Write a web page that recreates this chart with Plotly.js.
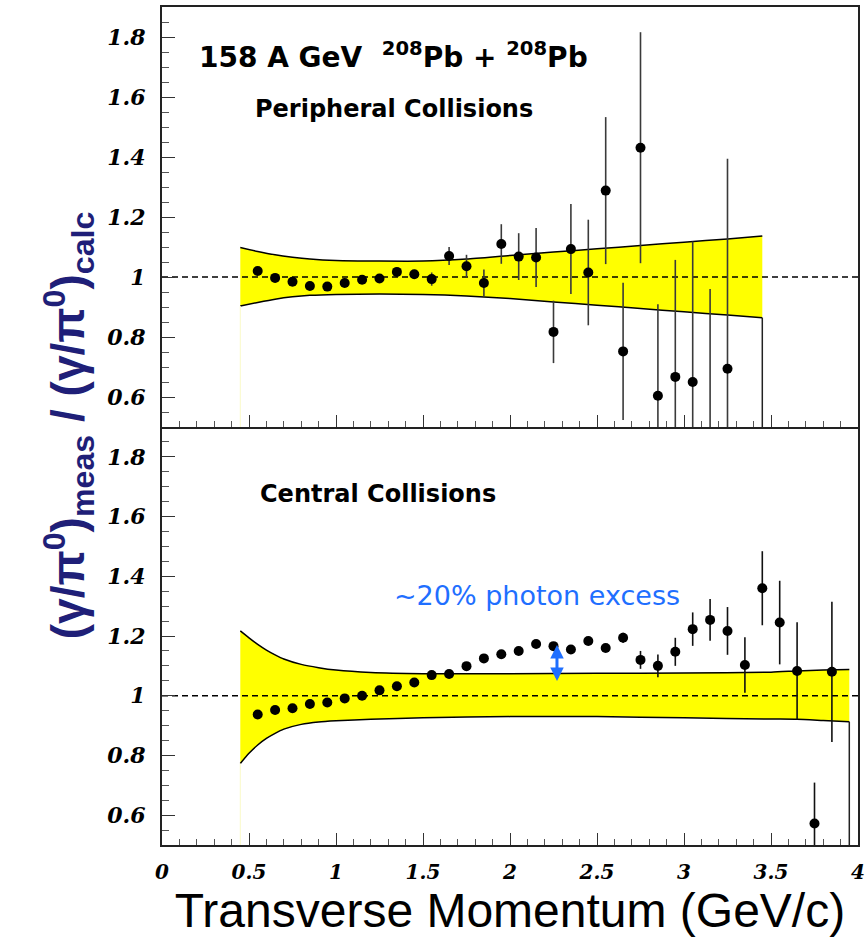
<!DOCTYPE html>
<html><head><meta charset="utf-8">
<script src="https://cdn.plot.ly/plotly-3.0.1.min.js"></script>
<style>html,body{margin:0;padding:0;background:#fff}#chart{width:868px;height:946px}</style>
</head><body><div id="chart"></div>
<script>
// ---------- data ----------
const xRange = [0, 4];
const yRange = [0.5, 1.9];
const refValue = 1;
const xTickVals = [0, 0.5, 1, 1.5, 2, 2.5, 3, 3.5, 4];
const xTickText = ["0", "0.5", "1", "1.5", "2", "2.5", "3", "3.5", "4"];
const yTickVals = [0.6, 0.8, 1, 1.2, 1.4, 1.6, 1.8];
const yTickText = ["0.6", "0.8", "1", "1.2", "1.4", "1.6", "1.8"];

// Peripheral collisions (top panel)
const periphPt = [0.55,0.65,0.75,0.85,0.95,1.05,1.15,1.25,1.35,1.45,1.55,1.65,1.75,1.85,1.95,2.05,2.15,2.25,2.35,2.45,2.55,2.65,2.75,2.85,2.95,3.05,3.15,3.25];
const periphRatio = [1.02,0.997,0.984,0.97,0.968,0.98,0.991,0.995,1.017,1.009,0.993,1.07,1.036,0.98,1.11,1.068,1.065,0.817,1.093,1.015,1.288,0.752,1.431,0.604,0.667,0.65,0.38,0.694];
const periphErr = [0.01,0.01,0.01,0.01,0.01,0.01,0.01,0.01,0.012,0.015,0.022,0.03,0.038,0.045,0.066,0.078,0.098,0.104,0.15,0.176,0.245,0.229,0.385,0.305,0.39,0.468,0.58,0.70];
const periphBandX  = [0.45,0.55,0.65,0.75,0.85,1.0,1.25,1.5,1.75,2.0,2.25,2.5,2.75,3.0,3.25,3.45];
const periphBandUp = [1.098,1.085,1.074,1.066,1.06,1.055,1.053,1.053,1.06,1.072,1.083,1.094,1.105,1.116,1.127,1.137];
const periphBandLo = [0.903,0.915,0.926,0.934,0.939,0.942,0.943,0.942,0.937,0.928,0.917,0.906,0.895,0.884,0.873,0.864];

// Central collisions (bottom panel)
const centralPt = [0.55,0.65,0.75,0.85,0.95,1.05,1.15,1.25,1.35,1.45,1.55,1.65,1.75,1.85,1.95,2.05,2.15,2.25,2.35,2.45,2.55,2.65,2.75,2.85,2.95,3.05,3.15,3.25,3.35,3.45,3.55,3.65,3.75,3.85];
const centralRatio = [0.937,0.952,0.958,0.972,0.977,0.991,1.0,1.018,1.032,1.044,1.069,1.073,1.099,1.125,1.139,1.15,1.173,1.166,1.155,1.183,1.16,1.194,1.12,1.10,1.147,1.223,1.254,1.217,1.103,1.36,1.245,1.083,0.572,1.08];
const centralErr = [0.008,0.008,0.008,0.008,0.008,0.008,0.008,0.008,0.008,0.008,0.008,0.008,0.008,0.008,0.008,0.008,0.008,0.008,0.008,0.01,0.01,0.017,0.03,0.038,0.047,0.056,0.07,0.08,0.093,0.124,0.14,0.163,0.137,0.235];
const centralBandX  = [0.45,0.5,0.55,0.6,0.65,0.7,0.8,0.9,1.0,1.2,1.5,2.0,2.5,3.0,3.5,3.65,3.8,3.95];
const centralBandUp = [1.217,1.194,1.172,1.153,1.137,1.123,1.105,1.094,1.086,1.078,1.074,1.074,1.075,1.076,1.079,1.083,1.086,1.088];
const centralBandLo = [0.773,0.807,0.835,0.857,0.874,0.888,0.904,0.912,0.916,0.921,0.926,0.93,0.93,0.926,0.922,0.921,0.917,0.913];

// photon excess arrow (x, from, to)
const excessX = 2.27;
const excessFrom = 1.175;
const excessTo = 1.049;

// ---------- styles ----------
const YELLOW = '#ffff00';
const BLUE = '#1f6fff';
const NAVY = '#1f1f78';
const tickFontY = {family: 'DejaVu Serif', size: 22, color: '#000', weight: 'bold', style: 'italic'};
const tickFontX = {family: 'DejaVu Serif', size: 20, color: '#000', weight: 'bold', style: 'italic'};

function bandTraces(bx, up, lo, xa, ya) {
  const last = bx.length - 1;
  return [
    {x: bx, y: lo, xaxis: xa, yaxis: ya, mode: 'lines', line: {color: '#000', width: 1.5, shape: 'spline', smoothing: 0.6}, hoverinfo: 'skip', showlegend: false},
    {x: bx, y: up, xaxis: xa, yaxis: ya, mode: 'lines', fill: 'tonexty', fillcolor: YELLOW, line: {color: '#000', width: 1.5, shape: 'spline', smoothing: 0.6}, hoverinfo: 'skip', showlegend: false},
    {x: [bx[last], bx[last]], y: [lo[last], yRange[0]], xaxis: xa, yaxis: ya, mode: 'lines', line: {color: '#222', width: 1.5}, hoverinfo: 'skip', showlegend: false},
    {x: [bx[0], bx[0]], y: [lo[0], yRange[0]], xaxis: xa, yaxis: ya, mode: 'lines', line: {color: '#fbfbc8', width: 1}, hoverinfo: 'skip', showlegend: false},
    {x: xRange, y: [refValue, refValue], xaxis: xa, yaxis: ya, mode: 'lines', line: {color: '#000', width: 1.5, dash: '6px,4px'}, hoverinfo: 'skip', showlegend: false}
  ];
}

function pointTrace(px, py, pe, xa, ya, errColor) {
  return {x: px, y: py, xaxis: xa, yaxis: ya, mode: 'markers', type: 'scatter',
    marker: {color: '#000', size: 10},
    error_y: {type: 'data', array: pe, visible: true, color: errColor, thickness: 1.6, width: 0},
    showlegend: false};
}

const traces = [].concat(
  bandTraces(periphBandX, periphBandUp, periphBandLo, 'x2', 'y2'),
  bandTraces(centralBandX, centralBandUp, centralBandLo, 'x', 'y'),
  [pointTrace(periphPt, periphRatio, periphErr, 'x2', 'y2', '#3a3a3a'),
   pointTrace(centralPt, centralRatio, centralErr, 'x', 'y', '#111')]
);

const split = 0.4988;
const commonX = {range: xRange, showgrid: false, zeroline: false, showline: true, linecolor: '#222', linewidth: 2,
  ticks: 'inside', ticklen: 12, tickwidth: 1, tickcolor: '#333', tickvals: xTickVals, ticktext: xTickText,
  minor: {dtick: 0.1, ticklen: 6, ticks: 'inside', tickcolor: '#555', tickwidth: 1}};
const commonY = {range: yRange, showgrid: false, zeroline: false, showline: true, linecolor: '#222', linewidth: 2, mirror: true,
  ticks: 'inside', ticklen: 13, tickwidth: 1, tickcolor: '#333', tickvals: yTickVals, ticktext: yTickText, tickfont: tickFontY,
  ticklabelstandoff: 10,
  minor: {dtick: 0.05, ticklen: 7, ticks: 'inside', tickcolor: '#555', tickwidth: 1}};

const layout = {
  width: 868, height: 946,
  margin: {l: 162, r: 10, t: 7, b: 101},
  paper_bgcolor: '#fff', plot_bgcolor: '#fff',
  showlegend: false,
  xaxis: Object.assign({}, commonX, {anchor: 'y', mirror: false, tickfont: tickFontX, ticklabelstandoff: 8,
    title: {text: 'Transverse Momentum (GeV/c)', font: {family: 'Liberation Sans', size: 48, color: '#000'}, standoff: 8}}),
  xaxis2: Object.assign({}, commonX, {anchor: 'y2', matches: 'x', mirror: true, showticklabels: false}),
  yaxis: Object.assign({}, commonY, {domain: [0, split], anchor: 'x'}),
  yaxis2: Object.assign({}, commonY, {domain: [split, 1], anchor: 'x2'}),
  annotations: [
    {xref: 'paper', yref: 'paper', x: -0.135, y: 0.501, xanchor: 'center', yanchor: 'middle', textangle: -90, showarrow: false,
     text: '(γ/π<sup>0</sup>)<sub>meas</sub> / (γ/π<sup>0</sup>)<sub>calc</sub>',
     font: {family: 'Liberation Sans', size: 46, color: NAVY, weight: 'bold'}},
    {xref: 'x2', yref: 'y2', x: 0.2, y: 1.74, xanchor: 'left', yanchor: 'middle', showarrow: false,
     text: '158 A GeV  <sup>208</sup>Pb + <sup>208</sup>Pb',
     font: {family: 'DejaVu Sans', size: 28, color: '#000', weight: 'bold'}},
    {xref: 'x2', yref: 'y2', x: 0.523, y: 1.56, xanchor: 'left', yanchor: 'middle', showarrow: false,
     text: 'Peripheral Collisions',
     font: {family: 'DejaVu Sans', size: 24, color: '#000', weight: 'bold'}},
    {xref: 'x', yref: 'y', x: 0.55, y: 1.677, xanchor: 'left', yanchor: 'middle', showarrow: false,
     text: 'Central Collisions',
     font: {family: 'DejaVu Sans', size: 24, color: '#000', weight: 'bold'}},
    {xref: 'x', yref: 'y', x: 1.32, y: 1.335, xanchor: 'left', yanchor: 'middle', showarrow: false,
     text: '~20% photon excess',
     font: {family: 'DejaVu Sans', size: 27, color: BLUE}},
    {xref: 'x', yref: 'y', axref: 'x', ayref: 'y', x: excessX, y: excessTo, ax: excessX, ay: excessFrom,
     text: '', showarrow: true, arrowhead: 2, startarrowhead: 2, arrowside: 'end+start', arrowsize: 0.9, startarrowsize: 0.9,
     arrowwidth: 3, arrowcolor: BLUE, standoff: 0, startstandoff: 0}
  ]
};

Plotly.newPlot('chart', traces, layout, {staticPlot: true, displayModeBar: false});
</script>
</body></html>
